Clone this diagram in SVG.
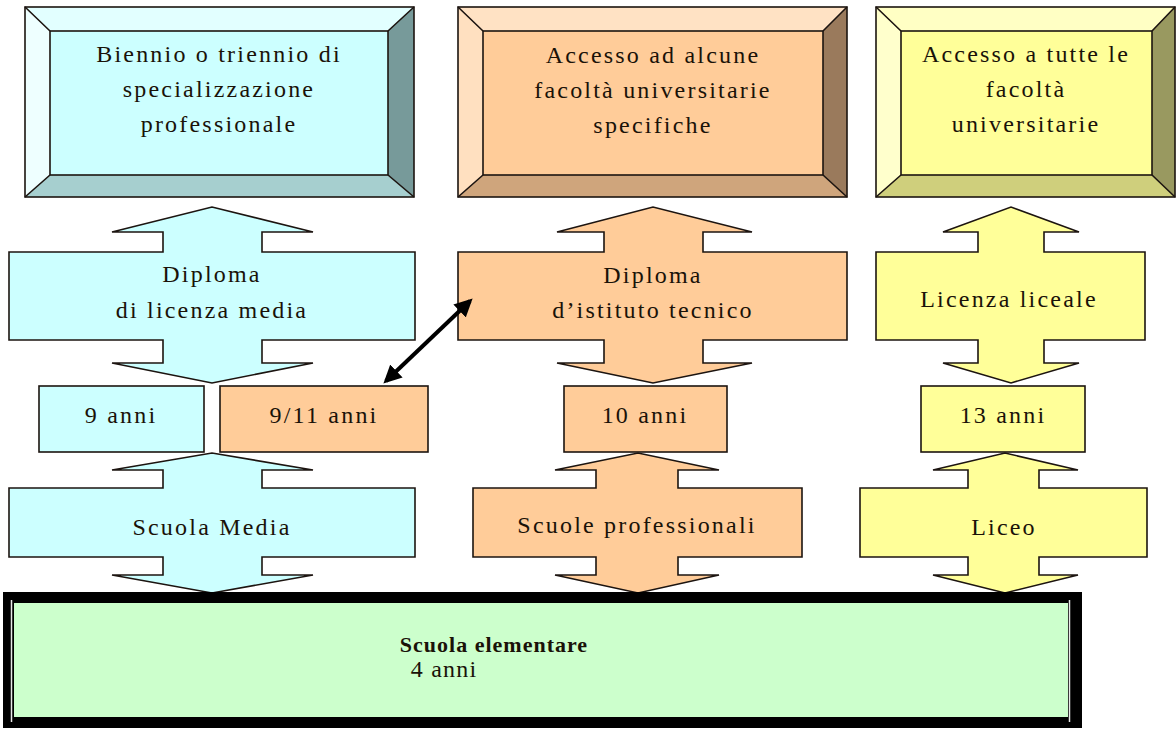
<svg xmlns="http://www.w3.org/2000/svg" width="1176" height="729" viewBox="0 0 1176 729">
  <style>
    .lbl { font-family: "Liberation Serif", "Times New Roman", serif; font-size: 24px; letter-spacing: 2.2px; fill: #1a1208; text-anchor: middle; }
    .edge { stroke: #1c1410; stroke-width: 1.6; stroke-linejoin: miter; }
    .cyan { fill: #CCFFFF; }
    .peach { fill: #FFCC99; }
    .yellow { fill: #FFFF99; }
    .bold { font-weight: bold; font-size: 22px; letter-spacing: 1px; }
    .small { letter-spacing: 1.2px; }
  </style>
  <defs>
    <marker id="head" viewBox="0 0 10 10" refX="8" refY="5" markerWidth="4.5" markerHeight="4.5" orient="auto-start-reverse">
      <path d="M0,0 L10,5 L0,10 z" fill="#000"/>
    </marker>
  </defs>

  <rect width="1176" height="729" fill="#ffffff"/>

  <!-- Top row: bevelled boxes -->
  <g id="biennio">
    <polygon points="25,7 414,7 388,31 50,31" fill="#E2FFFF"/>
    <polygon points="25,7 50,31 50,175 25,197" fill="#EEFFFF"/>
    <polygon points="414,7 414,197 388,175 388,31" fill="#779A9A"/>
    <polygon points="25,197 50,175 388,175 414,197" fill="#A6CFCF"/>
    <rect x="50" y="31" width="338" height="144" class="cyan edge"/>
    <path d="M25,7 L50,31 M414,7 L388,31 M25,197 L50,175 M414,197 L388,175" class="edge" fill="none"/>
    <rect x="25" y="7" width="389" height="190" fill="none" class="edge"/>
    <text class="lbl" x="219" y="62">Biennio o triennio di</text>
    <text class="lbl" x="219" y="97">specializzazione</text>
    <text class="lbl" x="219" y="132">professionale</text>
  </g>

  <g id="accesso-alcune">
    <polygon points="458,7 847,7 823,31 483,31" fill="#FFE2C4"/>
    <polygon points="458,7 483,31 483,175 458,197" fill="#FFE0C0"/>
    <polygon points="847,7 847,197 823,175 823,31" fill="#9A7A5C"/>
    <polygon points="458,197 483,175 823,175 847,197" fill="#CFA57C"/>
    <rect x="483" y="31" width="340" height="144" class="peach edge"/>
    <path d="M458,7 L483,31 M847,7 L823,31 M458,197 L483,175 M847,197 L823,175" class="edge" fill="none"/>
    <rect x="458" y="7" width="389" height="190" fill="none" class="edge"/>
    <text class="lbl" x="653" y="63">Accesso ad alcune</text>
    <text class="lbl" x="653" y="98">facoltà universitarie</text>
    <text class="lbl" x="653" y="133">specifiche</text>
  </g>

  <g id="accesso-tutte">
    <polygon points="876,7 1175,7 1152,31 901,31" fill="#FFFFC4"/>
    <polygon points="876,7 901,31 901,175 876,197" fill="#FFFFCC"/>
    <polygon points="1175,7 1175,197 1152,175 1152,31" fill="#999960"/>
    <polygon points="876,197 901,175 1152,175 1175,197" fill="#CFCF7C"/>
    <rect x="901" y="31" width="251" height="144" class="yellow edge"/>
    <path d="M876,7 L901,31 M1175,7 L1152,31 M876,197 L901,175 M1175,197 L1152,175" class="edge" fill="none"/>
    <rect x="876" y="7" width="299" height="190" fill="none" class="edge"/>
    <text class="lbl" x="1026" y="62">Accesso a tutte le</text>
    <text class="lbl" x="1026" y="97">facoltà</text>
    <text class="lbl" x="1026" y="132">universitarie</text>
  </g>

  <!-- Middle row: up-down arrow callouts -->
  <g id="diploma-media">
    <polygon class="cyan edge" points="9,252 163,252 163,232 112,232 212,207 313,232 262,232 262,252 415,252 415,340 262,340 262,363 313,363 212,383 112,363 163,363 163,340 9,340"/>
    <text class="lbl" x="212" y="282">Diploma</text>
    <text class="lbl" x="212" y="318">di licenza media</text>
  </g>

  <g id="diploma-tecnico">
    <polygon class="peach edge" points="458,252 604,252 604,232 557,232 653,207 752,232 703,232 703,252 847,252 847,340 703,340 703,363 752,363 653,383 557,363 604,363 604,340 458,340"/>
    <text class="lbl" x="653" y="283">Diploma</text>
    <text class="lbl" x="653" y="318">d’istituto tecnico</text>
  </g>

  <g id="licenza-liceale">
    <polygon class="yellow edge" points="876,252 978,252 978,232 943,232 1011,207 1079,232 1044,232 1044,252 1145,252 1145,340 1044,340 1044,363 1079,363 1011,383 943,363 978,363 978,340 876,340"/>
    <text class="lbl" x="1009" y="307">Licenza liceale</text>
  </g>

  <!-- Year boxes -->
  <g id="anni-9">
    <rect x="39" y="386" width="165" height="66" class="cyan edge"/>
    <text class="lbl" x="121" y="423">9 anni</text>
  </g>
  <g id="anni-9-11">
    <rect x="220" y="386" width="208" height="66" class="peach edge"/>
    <text class="lbl" x="324" y="423">9/11 anni</text>
  </g>
  <g id="anni-10">
    <rect x="564" y="386" width="163" height="66" class="peach edge"/>
    <text class="lbl" x="645" y="423">10 anni</text>
  </g>
  <g id="anni-13">
    <rect x="921" y="386" width="164" height="66" class="yellow edge"/>
    <text class="lbl" x="1003" y="423">13 anni</text>
  </g>

  <!-- Bottom row: school types -->
  <g id="scuola-media">
    <polygon class="cyan edge" points="9,488 163,488 163,470 112,470 212,453 313,470 262,470 262,488 415,488 415,557 262,557 262,575 313,575 212,593 112,575 163,575 163,557 9,557"/>
    <text class="lbl" x="212" y="535">Scuola Media</text>
  </g>

  <g id="scuole-professionali">
    <polygon class="peach edge" points="473,488 596,488 596,470 555,470 638,453 719,470 678,470 678,488 802,488 802,557 678,557 678,575 719,575 638,593 555,575 596,575 596,557 473,557"/>
    <text class="lbl" x="637" y="533">Scuole professionali</text>
  </g>

  <g id="liceo">
    <polygon class="yellow edge" points="860,488 968,488 968,470 933,470 1005,453 1078,470 1039,470 1039,488 1147,488 1147,557 1039,557 1039,575 1078,575 1005,593 933,575 968,575 968,557 860,557"/>
    <text class="lbl" x="1004" y="535">Liceo</text>
  </g>

  <!-- Base: elementary school -->
  <g id="scuola-elementare">
    <rect x="3" y="592" width="1079" height="136" fill="#000"/>
    <line x1="11.5" y1="600" x2="11.5" y2="722" stroke="#e8e8e8" stroke-width="1.5"/>
    <line x1="1069.5" y1="600" x2="1069.5" y2="722" stroke="#e8e8e8" stroke-width="1.5"/>
    <rect x="14" y="603" width="1054" height="114" fill="#CCFFCC"/>
    <text class="lbl bold" x="494" y="652">Scuola elementare</text>
    <text class="lbl small" x="444" y="677">4 anni</text>
  </g>

  <!-- Connectors -->
  <g id="connectors">
    <line x1="386" y1="381" x2="470" y2="301" stroke="#000" stroke-width="4" marker-start="url(#head)" marker-end="url(#head)"/>
  </g>
</svg>
